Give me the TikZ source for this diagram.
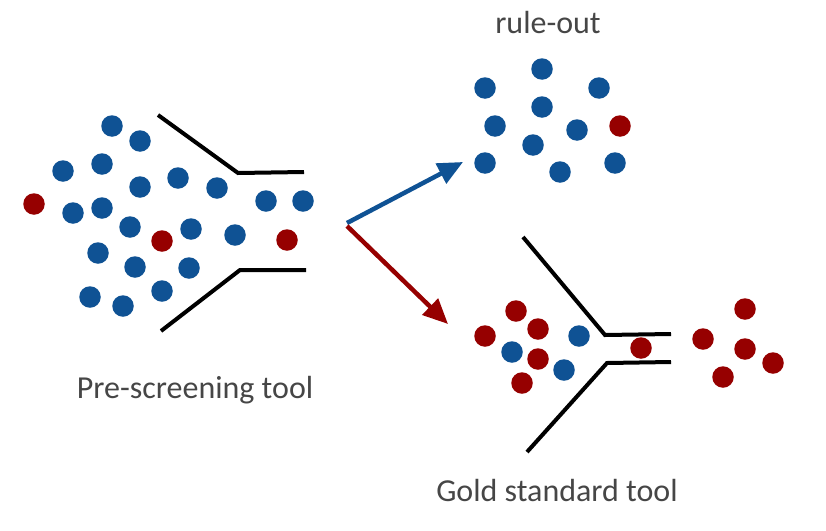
\documentclass[tikz,border=0pt]{standalone}
\usepackage{fontspec}
\setmainfont{Carlito}
\usetikzlibrary{arrows.meta}
\definecolor{dotblue}{RGB}{15,82,148}
\definecolor{dotred}{RGB}{150,0,0}
\definecolor{txtgray}{RGB}{70,70,70}
\tikzset{
  bd/.style={circle,fill=dotblue,inner sep=0pt,minimum size=21.5pt},
  rd/.style={circle,fill=dotred,inner sep=0pt,minimum size=21.5pt},
  funnel/.style={line width=4pt,black},
  lbl/.style={text=txtgray,font=\fontsize{32}{34}\selectfont,inner sep=0pt},
  arr/.style={line width=4.5pt,-{Triangle[length=25pt,width=22pt]}}
}
\begin{document}
\begin{tikzpicture}[x=1pt,y=-1pt]
\useasboundingbox (0,0) rectangle (826,530);
% pre-screening dots
\node[bd] (p1) at (112,126) {};
\node[bd] (p2) at (140,141) {};
\node[bd] (p3) at (63,171) {};
\node[bd] (p4) at (102,164) {};
\node[bd] (p5) at (140,187) {};
\node[bd] (p6) at (178,178) {};
\node[bd] (p7) at (217,188) {};
\node[rd] (p8) at (34,204) {};
\node[bd] (p9) at (73,213) {};
\node[bd] (p10) at (102,208) {};
\node[bd] (p11) at (130,227) {};
\node[rd] (p12) at (162,241) {};
\node[bd] (p13) at (191,229) {};
\node[bd] (p14) at (235,235) {};
\node[bd] (p15) at (266,201) {};
\node[bd] (p16) at (303,201) {};
\node[rd] (p17) at (287,240) {};
\node[bd] (p18) at (98,253) {};
\node[bd] (p19) at (135,267) {};
\node[bd] (p20) at (189,268) {};
\node[bd] (p21) at (162,291) {};
\node[bd] (p22) at (90,297) {};
\node[bd] (p23) at (123,306) {};
% funnel 1
\coordinate (fa1) at (158,115);
\coordinate (fa2) at (238,173);
\coordinate (fa3) at (304,172);
\coordinate (fb1) at (161,331);
\coordinate (fb2) at (240,270);
\coordinate (fb3) at (306,270);
\draw[funnel] (fa1) -- (fa2) -- (fa3);
\draw[funnel] (fb1) -- (fb2) -- (fb3);
\node[lbl] (l1) at (195,390) {Pre-screening tool};
% arrows
\coordinate (s1) at (347,223);
\coordinate (t1) at (463,162);
\coordinate (s2) at (347,226);
\coordinate (t2) at (448,324);
\draw[arr,dotblue] (s1) -- (t1);
\draw[arr,dotred] (s2) -- (t2);
% rule-out
\node[lbl] (l2) at (548,23) {rule-out};
\node[bd] (r1) at (542,69) {};
\node[bd] (r2) at (485,88) {};
\node[bd] (r3) at (599,88) {};
\node[bd] (r4) at (542,107) {};
\node[bd] (r5) at (495,126) {};
\node[bd] (r6) at (577,130) {};
\node[rd] (r7) at (620,126) {};
\node[bd] (r8) at (533,145) {};
\node[bd] (r9) at (485,163) {};
\node[bd] (r10) at (560,172) {};
\node[bd] (r11) at (615,163) {};
% gold standard
\node[rd] (g1) at (516,311) {};
\node[rd] (g2) at (538,329) {};
\node[rd] (g3) at (485,336) {};
\node[bd] (g4) at (579,336) {};
\node[bd] (g5) at (512,352) {};
\node[rd] (g6) at (538,359) {};
\node[bd] (g7) at (564,370) {};
\node[rd] (g8) at (522,383) {};
\node[rd] (g9) at (641,348) {};
\node[rd] (g10) at (745,309) {};
\node[rd] (g11) at (703,339) {};
\node[rd] (g12) at (745,349) {};
\node[rd] (g13) at (773,363) {};
\node[rd] (g14) at (723,377) {};
\coordinate (ga1) at (523,237);
\coordinate (ga2) at (605,335);
\coordinate (ga3) at (671,334);
\coordinate (gb1) at (527,452);
\coordinate (gb2) at (607,363);
\coordinate (gb3) at (671,362);
\draw[funnel] (ga1) -- (ga2) -- (ga3);
\draw[funnel] (gb1) -- (gb2) -- (gb3);
\node[lbl] (l3) at (557,490) {Gold standard tool};
\end{tikzpicture}
\end{document}
